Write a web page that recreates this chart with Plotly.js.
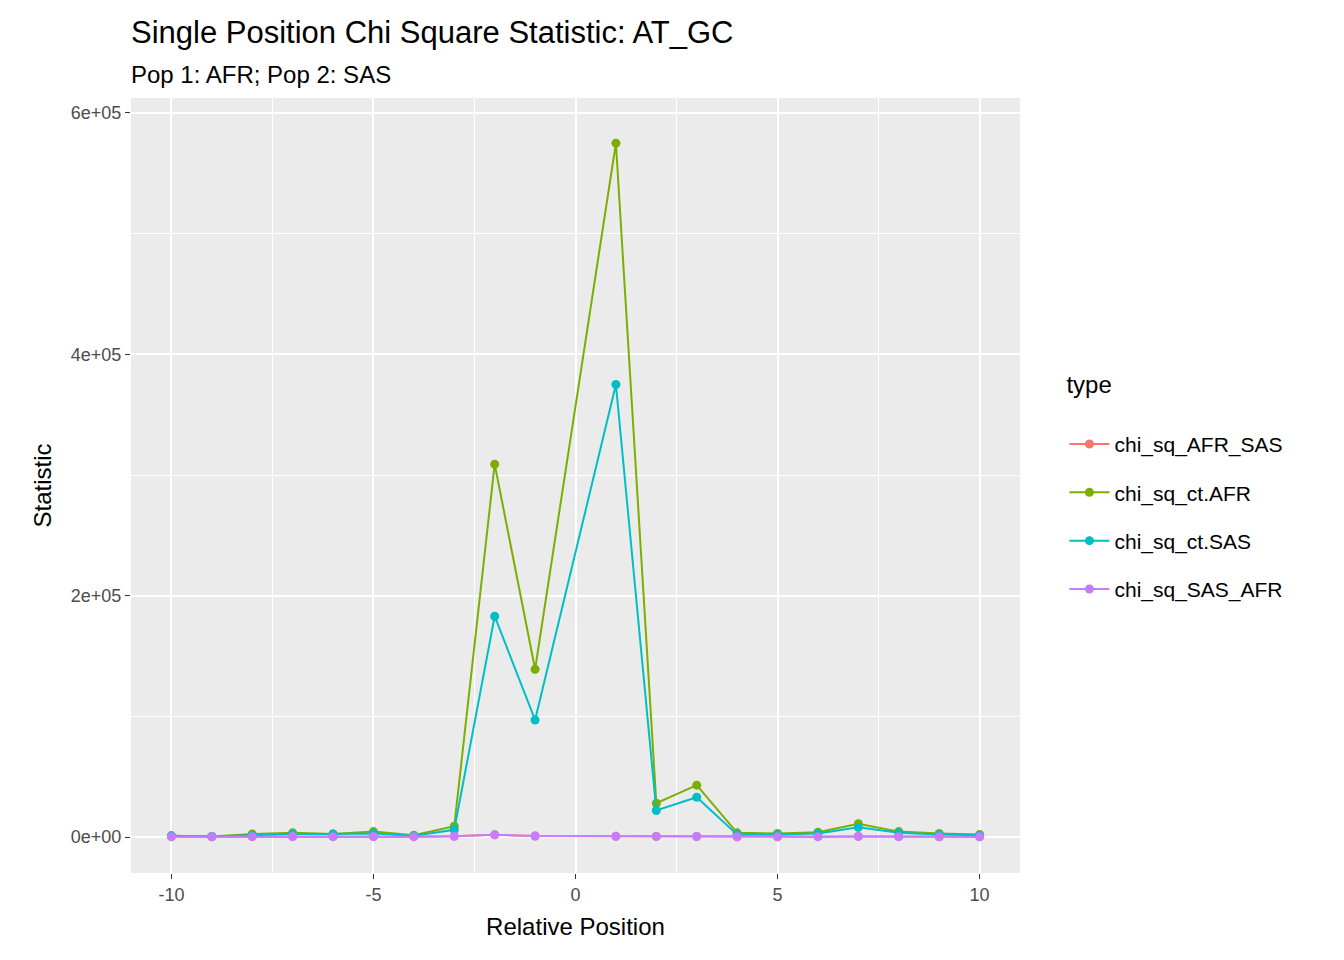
<!DOCTYPE html>
<html>
<head>
<meta charset="utf-8">
<script src="https://cdn.plot.ly/plotly-3.0.1.min.js"></script>
<style>body{margin:0;background:#fff}</style>
</head>
<body>
<div id="grafico" style="width:1344px;height:960px"></div>
<script>
const posiciones = [-10, -9, -8, -7, -6, -5, -4, -3, -2, -1, 1, 2, 3, 4, 5, 6, 7, 8, 9, 10];
const chiAfrSas = [300, 200, 300, 400, 300, 400, 300, 600, 1800, 900, 600, 500, 400, 200, 200, 300, 500, 300, 200, 200];
const chiCtAfr = [1000, 500, 2500, 3500, 2500, 4500, 1500, 9000, 309000, 139000, 575000, 28000, 43000, 3500, 3000, 4000, 11000, 4500, 3000, 2000];
const chiCtSas = [1000, 500, 1500, 2500, 2500, 3000, 1000, 6000, 183000, 97000, 375000, 22000, 33000, 2000, 2000, 3000, 8000, 3500, 2000, 1500];
const chiSasAfr = [300, 200, 300, 400, 300, 400, 300, 600, 1800, 900, 600, 500, 400, 200, 200, 300, 500, 300, 200, 200];

const series = [
  { name: "chi_sq_AFR_SAS", y: chiAfrSas, color: "#F8766D" },
  { name: "chi_sq_ct.AFR", y: chiCtAfr, color: "#7CAE00" },
  { name: "chi_sq_ct.SAS", y: chiCtSas, color: "#00BFC4" },
  { name: "chi_sq_SAS_AFR", y: chiSasAfr, color: "#C77CFF" }
];

const trazas = series.map(s => ({
  type: "scatter",
  mode: "lines+markers",
  name: s.name,
  legendgroup: s.name,
  x: posiciones,
  y: s.y,
  line: { color: s.color, width: 2 },
  marker: { color: s.color, size: 9 }
}));

const fuente = "Liberation Sans, Arial, sans-serif";

const layout = {
  width: 1344,
  height: 960,
  margin: { l: 131, r: 324, t: 98, b: 87 },
  paper_bgcolor: "#fff",
  plot_bgcolor: "#EBEBEB",
  font: { family: fuente, color: "#000" },
  xaxis: {
    range: [-11, 11],
    tickvals: [-10, -5, 0, 5, 10],
    ticktext: ["-10", "-5", "0", "5", "10"],
    gridcolor: "#fff",
    gridwidth: 2,
    minor: { tickvals: [-7.5, -2.5, 2.5, 7.5], gridcolor: "#fff", gridwidth: 1, ticks: "" },
    zeroline: false,
    ticks: "outside",
    ticklen: 5,
    tickcolor: "#333",
    tickfont: { size: 18, color: "#4D4D4D" },
    title: { text: "Relative Position", font: { size: 24 }, standoff: 14 }
  },
  yaxis: {
    range: [-29800, 612400],
    tickvals: [0, 200000, 400000, 600000],
    ticktext: ["0e+00", "2e+05", "4e+05", "6e+05"],
    gridcolor: "#fff",
    gridwidth: 2,
    minor: { tickvals: [100000, 300000, 500000], gridcolor: "#fff", gridwidth: 1, ticks: "" },
    zeroline: false,
    ticks: "outside",
    ticklen: 5,
    tickcolor: "#333",
    tickfont: { size: 18, color: "#4D4D4D" },
    title: { text: "Statistic", font: { size: 24 }, standoff: 12 }
  },
  legend: {
    x: 1.05, xanchor: "left",
    y: 0.5, yanchor: "middle",
    font: { size: 21 },
    title: { text: "type<br> ", font: { size: 24 } },
    tracegroupgap: 18,
    itemwidth: 40
  },
  annotations: [
    { text: "Single Position Chi Square Statistic: AT_GC", xref: "paper", yref: "paper",
      x: 0, y: 1, xshift: -2, yshift: 46, xanchor: "left", yanchor: "bottom",
      showarrow: false, font: { size: 31 } },
    { text: "Pop 1: AFR; Pop 2: SAS", xref: "paper", yref: "paper",
      x: 0, y: 1, xshift: -2, yshift: 8, xanchor: "left", yanchor: "bottom",
      showarrow: false, font: { size: 24 } }
  ],
  showlegend: true
};

Plotly.newPlot("grafico", trazas, layout, { staticPlot: true });
</script>
</body>
</html>
